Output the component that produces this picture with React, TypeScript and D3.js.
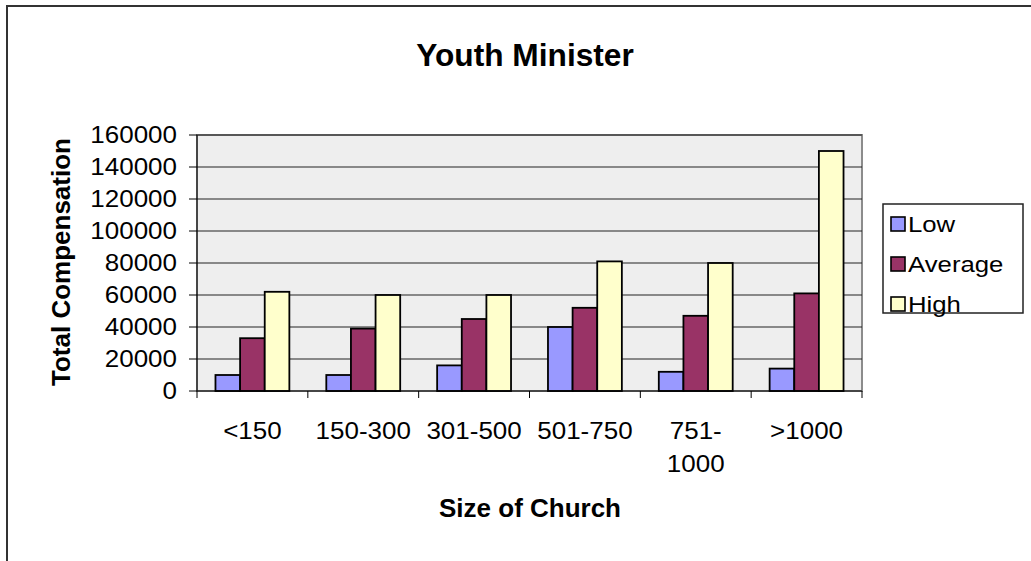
import React from "react";
import * as d3 from "d3";

const categories = ["<150", "150-300", "301-500", "501-750", "751-\n1000", ">1000"];
const seriesNames = ["Low", "Average", "High"];
const low = [10000, 10000, 16000, 40000, 12000, 14000];
const average = [33000, 39000, 45000, 52000, 47000, 61000];
const high = [62000, 60000, 60000, 81000, 80000, 150000];
const yTicks = [0, 20000, 40000, 60000, 80000, 100000, 120000, 140000, 160000];
const colors = ["#9999ff", "#993366", "#ffffcc"];

const font = "'Liberation Sans', Arial, sans-serif";

// text drawn a bit wider than the font's natural width, as in the picture
function WideText(props: any) {
  const { x, y, k = 1.13, rotate = 0, anchor = "start", size = 23, bold = false, children } = props;
  return (
    <g transform={`translate(${x},${y}) rotate(${rotate}) scale(${k},1)`}>
      <text
        textAnchor={anchor}
        fontFamily={font}
        fontSize={size}
        fontWeight={bold ? "bold" : "normal"}
        fill="#000"
      >
        {children}
      </text>
    </g>
  );
}

export default function App() {
  const values = [low, average, high];
  const plot = { left: 197, right: 862, top: 135, bottom: 391 };

  const x0 = d3.scaleBand()
    .domain(categories)
    .range([plot.left, plot.right])
    .paddingInner(1 / 3)
    .paddingOuter(1 / 6);

  const x1 = d3.scaleBand()
    .domain(seriesNames)
    .range([0, x0.bandwidth()]);

  const y = d3.scaleLinear()
    .domain([0, 160000])
    .range([plot.bottom, plot.top]);

  const step = x0.step();
  const edges = d3.range(categories.length + 1).map(i => plot.left + i * step);

  const grid = yTicks.slice(1).map((t, i) => (
    <line key={i} x1={plot.left} x2={plot.right} y1={y(t)} y2={y(t)} stroke="#222" strokeWidth={1.2} />
  ));

  const bars = categories.map((c, ci) => (
    <g key={ci} transform={`translate(${x0(c)},0)`}>
      {seriesNames.map((s, si) => (
        <rect
          key={s}
          x={x1(s)}
          y={y(values[si][ci])}
          width={x1.bandwidth()}
          height={y(0) - y(values[si][ci])}
          fill={colors[si]}
          stroke="#000"
          strokeWidth={1.8}
        />
      ))}
    </g>
  ));

  const yAxis = yTicks.map((t, i) => (
    <g key={i}>
      <line x1={plot.left - 8} x2={plot.left} y1={y(t)} y2={y(t)} stroke="#000" />
      <WideText x={plot.left - 20} y={y(t) + 8} anchor="end">{t}</WideText>
    </g>
  ));

  const xAxis = edges.map((e, i) => (
    <line key={i} x1={e} x2={e} y1={plot.bottom} y2={plot.bottom + 7} stroke="#000" />
  ));

  const xLabels = categories.map((c, i) => (
    <g key={i}>
      {c.split("\n").map((line, li) => (
        <WideText key={li} x={x0(c)! + x0.bandwidth() / 2} y={439 + li * 33} anchor="middle">{line}</WideText>
      ))}
    </g>
  ));

  const legendY = [224, 264, 304];
  const legend = seriesNames.map((s, i) => (
    <g key={s}>
      <rect x={891} y={legendY[i] - 7} width={14} height={14} fill={colors[i]} stroke="#000" strokeWidth={1.6} />
      <WideText x={908} y={legendY[i] + 8} size={22} k={1.17}>{s}</WideText>
    </g>
  ));

  return (
    <svg width={1031} height={561} style={{ position: "absolute", left: 0, top: 0, background: "#fff" }}>
      <rect x={7} y={6} width={1040} height={580} fill="#fff" stroke="#333" strokeWidth={2} />
      <rect x={plot.left} y={plot.top} width={plot.right - plot.left} height={plot.bottom - plot.top} fill="#eeeeee" stroke="#8c8c8c" strokeWidth={2} />
      {grid}
      {bars}
      <line x1={plot.left} x2={plot.left} y1={plot.top} y2={plot.bottom} stroke="#000" />
      <line x1={plot.left} x2={plot.right} y1={plot.bottom} y2={plot.bottom} stroke="#000" />
      {yAxis}
      {xAxis}
      {xLabels}
      <WideText x={525} y={66} anchor="middle" size={32} k={0.99} bold>Youth Minister</WideText>
      <WideText x={70} y={262} rotate={-90} anchor="middle" size={25} k={1.04} bold>Total Compensation</WideText>
      <WideText x={530} y={517} anchor="middle" size={25} k={1.04} bold>Size of Church</WideText>
      <rect x={883} y={204} width={140} height={109} fill="#fff" stroke="#222" strokeWidth={1.5} />
      {legend}
    </svg>
  );
}
